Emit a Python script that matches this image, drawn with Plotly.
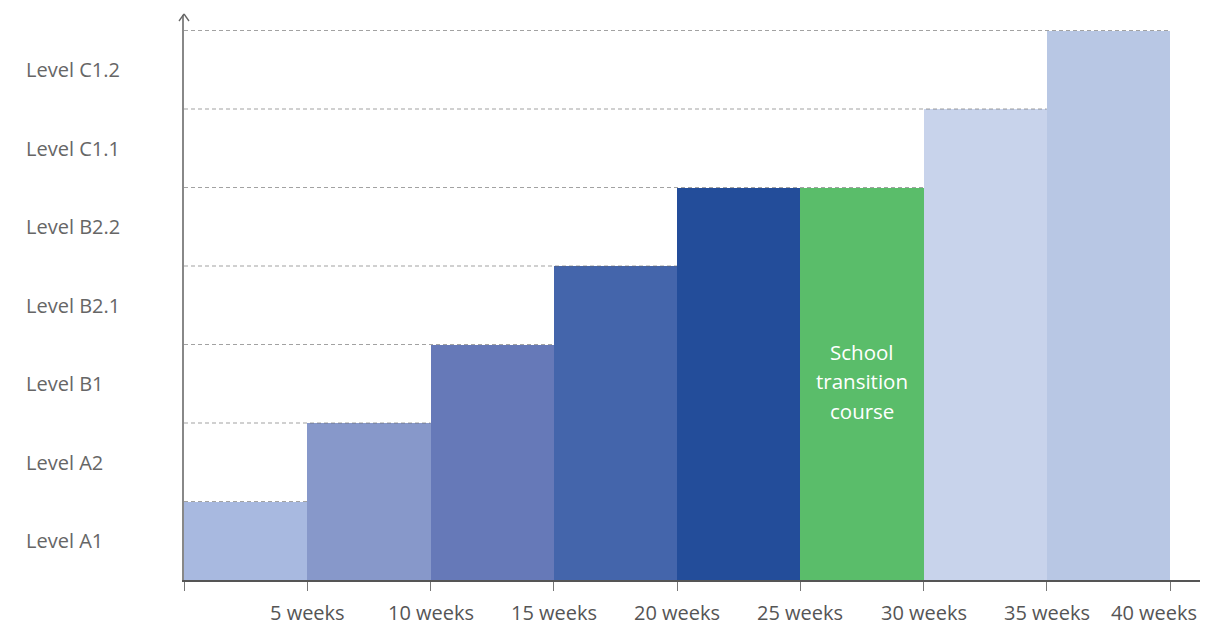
import plotly.graph_objects as go

# Data
level_labels = ["Level A1", "Level A2", "Level B1", "Level B2.1", "Level B2.2", "Level C1.1", "Level C1.2"]
week_starts = [0, 5, 10, 15, 20, 25, 30, 35]
bar_width = 5
bar_levels = [1, 2, 3, 4, 5, 5, 6, 7]
bar_colors = ["#a8b9e0", "#8798ca", "#6679b8", "#4465ab", "#234d9a", "#5abd6a", "#c8d3eb", "#b8c7e4"]
tick_vals = [0, 5, 10, 15, 20, 25, 30, 35, 40]
tick_text = ["", "5 weeks", "10 weeks", "15 weeks", "20 weeks", "25 weeks", "30 weeks", "35 weeks", "40 weeks"]
course_lines = ["School", "transition", "course"]
course_bar_index = 5

OFF = 8  # default page body margin
W, H = 1208 - OFF, 625 - OFF
L, R, T, B = 184 - OFF, 0, 15 - OFF, 45
x_max = (W - L) / ((1170 - 184) / 40)
y_max = (580 - 15) / 78.5
px_per_unit_y = 78.5

fig = go.Figure()
fig.add_trace(go.Bar(
    x=[s + bar_width / 2 for s in week_starts],
    y=bar_levels,
    width=[bar_width] * len(week_starts),
    marker=dict(color=bar_colors, line=dict(width=0)),
    hoverinfo="skip",
))

shapes = []
for lvl in range(1, len(level_labels) + 1):
    ends = [s + bar_width for s, v in zip(week_starts, bar_levels) if v == lvl]
    if not ends:
        continue
    x_end = max(ends)
    shapes.append(dict(type="line", xref="x", yref="y", x0=0, x1=x_end, y0=lvl, y1=lvl,
                       line=dict(color="rgba(100,100,100,0.6)", width=1.2, dash="4px,3px"), layer="above"))

# arrow head on y axis
for dx in (-5, 5):
    shapes.append(dict(type="line", xref="paper", yref="paper", xsizemode="pixel", ysizemode="pixel",
                       xanchor=0, yanchor=1, x0=0, y0=1, x1=dx, y1=-6,
                       line=dict(color="#666", width=1.3)))

annotations = []
for i, lab in enumerate(level_labels):
    annotations.append(dict(xref="paper", yref="y", x=(24 - 184) / (W - L - R), y=i + 0.5,
                            text=lab, showarrow=False, xanchor="left", yanchor="middle",
                            font=dict(family="Open Sans", size=20, color="#666")))

label_y = -32 / (H - T - B)
for k, (tv, tt) in enumerate(zip(tick_vals, tick_text)):
    if not tt:
        continue
    ann = dict(xref="x", yref="paper", x=tv, y=label_y, text=tt,
               showarrow=False, xanchor="center", yanchor="middle", borderpad=0,
               font=dict(family="Open Sans", size=20, color="#555"))
    if k == len(tick_vals) - 1:
        # keep the last label fully inside the figure
        ann.update(xref="paper", x=1, xanchor="right", xshift=-10)
    annotations.append(ann)

cx = week_starts[course_bar_index] + bar_width / 2
cy = (580 - 381) / px_per_unit_y
spacing = 29.5 / px_per_unit_y
for j, line in enumerate(course_lines):
    annotations.append(dict(xref="x", yref="y", x=cx, y=cy + (1 - j) * spacing,
                            text=line, showarrow=False, xanchor="center", yanchor="middle",
                            font=dict(family="Open Sans", size=20.5, color="white")))

fig.update_layout(
    width=W, height=H,
    margin=dict(l=L, r=R, t=T, b=B, pad=0),
    paper_bgcolor="white", plot_bgcolor="white",
    showlegend=False, bargap=0,
    shapes=shapes, annotations=annotations,
    xaxis=dict(range=[0, x_max], tickvals=tick_vals, showticklabels=False, showgrid=False, zeroline=False,
               showline=True, linecolor="#555", linewidth=1.5, ticks="outside", ticklen=9,
               tickcolor="#777", tickwidth=1.3, fixedrange=True),
    yaxis=dict(range=[0, y_max], showgrid=False, zeroline=False, showticklabels=False,
               showline=True, linecolor="#888", linewidth=2, ticks="", fixedrange=True),
)

fig.write_html("out.html")
